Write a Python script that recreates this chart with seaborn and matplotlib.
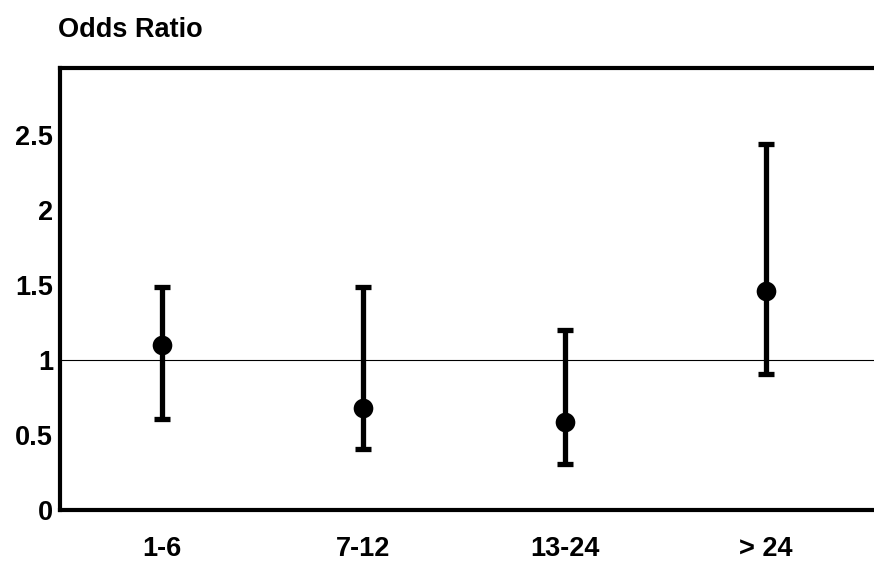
import numpy as np
import pandas as pd
import matplotlib
matplotlib.use("Agg")
import matplotlib.pyplot as plt
import seaborn as sns

# Odds ratios with confidence limits
groups = ["1-6", "7-12", "13-24", "> 24"]
odds_ratio = [1.10, 0.68, 0.59, 1.46]
ci_low = [0.61, 0.41, 0.31, 0.91]
ci_high = [1.49, 1.49, 1.20, 2.44]
y_ticks = [0, 0.5, 1, 1.5, 2, 2.5]
y_tick_labels = ["0", "0.5", "1", "1.5", "2", "2.5"]

df = pd.DataFrame({"group": groups, "or": odds_ratio, "lo": ci_low, "hi": ci_high})

sns.set_style("white")
plt.rcParams["font.family"] = ["Liberation Sans", "DejaVu Sans"]
plt.rcParams["font.weight"] = "bold"
plt.rcParams["text.color"] = "black"
plt.rcParams["xtick.color"] = "black"
plt.rcParams["ytick.color"] = "black"

fig = plt.figure(figsize=(8.74, 5.61), dpi=100)
ax = fig.add_axes([60 / 874, 51 / 561, 814 / 874, 442 / 561])

# reference line at OR = 1
ax.axhline(1, color="black", lw=0.8, zorder=1)

# confidence intervals
xpos = np.arange(len(df))
ax.errorbar(xpos, df["or"],
            yerr=[df["or"] - df["lo"], df["hi"] - df["or"]],
            fmt="none", ecolor="black", elinewidth=3.8,
            capsize=6, capthick=3.8, zorder=2)

# point estimates
sns.scatterplot(data=df, x="group", y="or", ax=ax, color="black",
                s=200, edgecolor="black", linewidth=0, zorder=3, legend=False)

ax.set_xlim(-0.504, 3.536)
ax.set_ylim(0, 2.95)
ax.set_yticks(y_ticks)
ax.set_yticklabels(y_tick_labels)
ax.set_xticks(xpos)
ax.set_xticklabels(groups)
ax.set_xlabel("")
ax.set_ylabel("")
ax.tick_params(axis="y", length=0, pad=5, labelsize=19.5, labelcolor="black")
ax.tick_params(axis="x", length=0, pad=19, labelsize=19.5, labelcolor="black")
for lab in ax.get_xticklabels() + ax.get_yticklabels():
    lab.set_fontweight("bold")

for side in ["left", "bottom", "top"]:
    ax.spines[side].set_linewidth(3)
    ax.spines[side].set_color("black")
ax.spines["right"].set_visible(False)

fig.text(58 / 874, 1 - 30 / 561, "Odds Ratio", fontsize=19.5, color="black",
         fontweight="bold", ha="left", va="center")

fig.savefig("out.png", dpi=100)
plt.close(fig)
